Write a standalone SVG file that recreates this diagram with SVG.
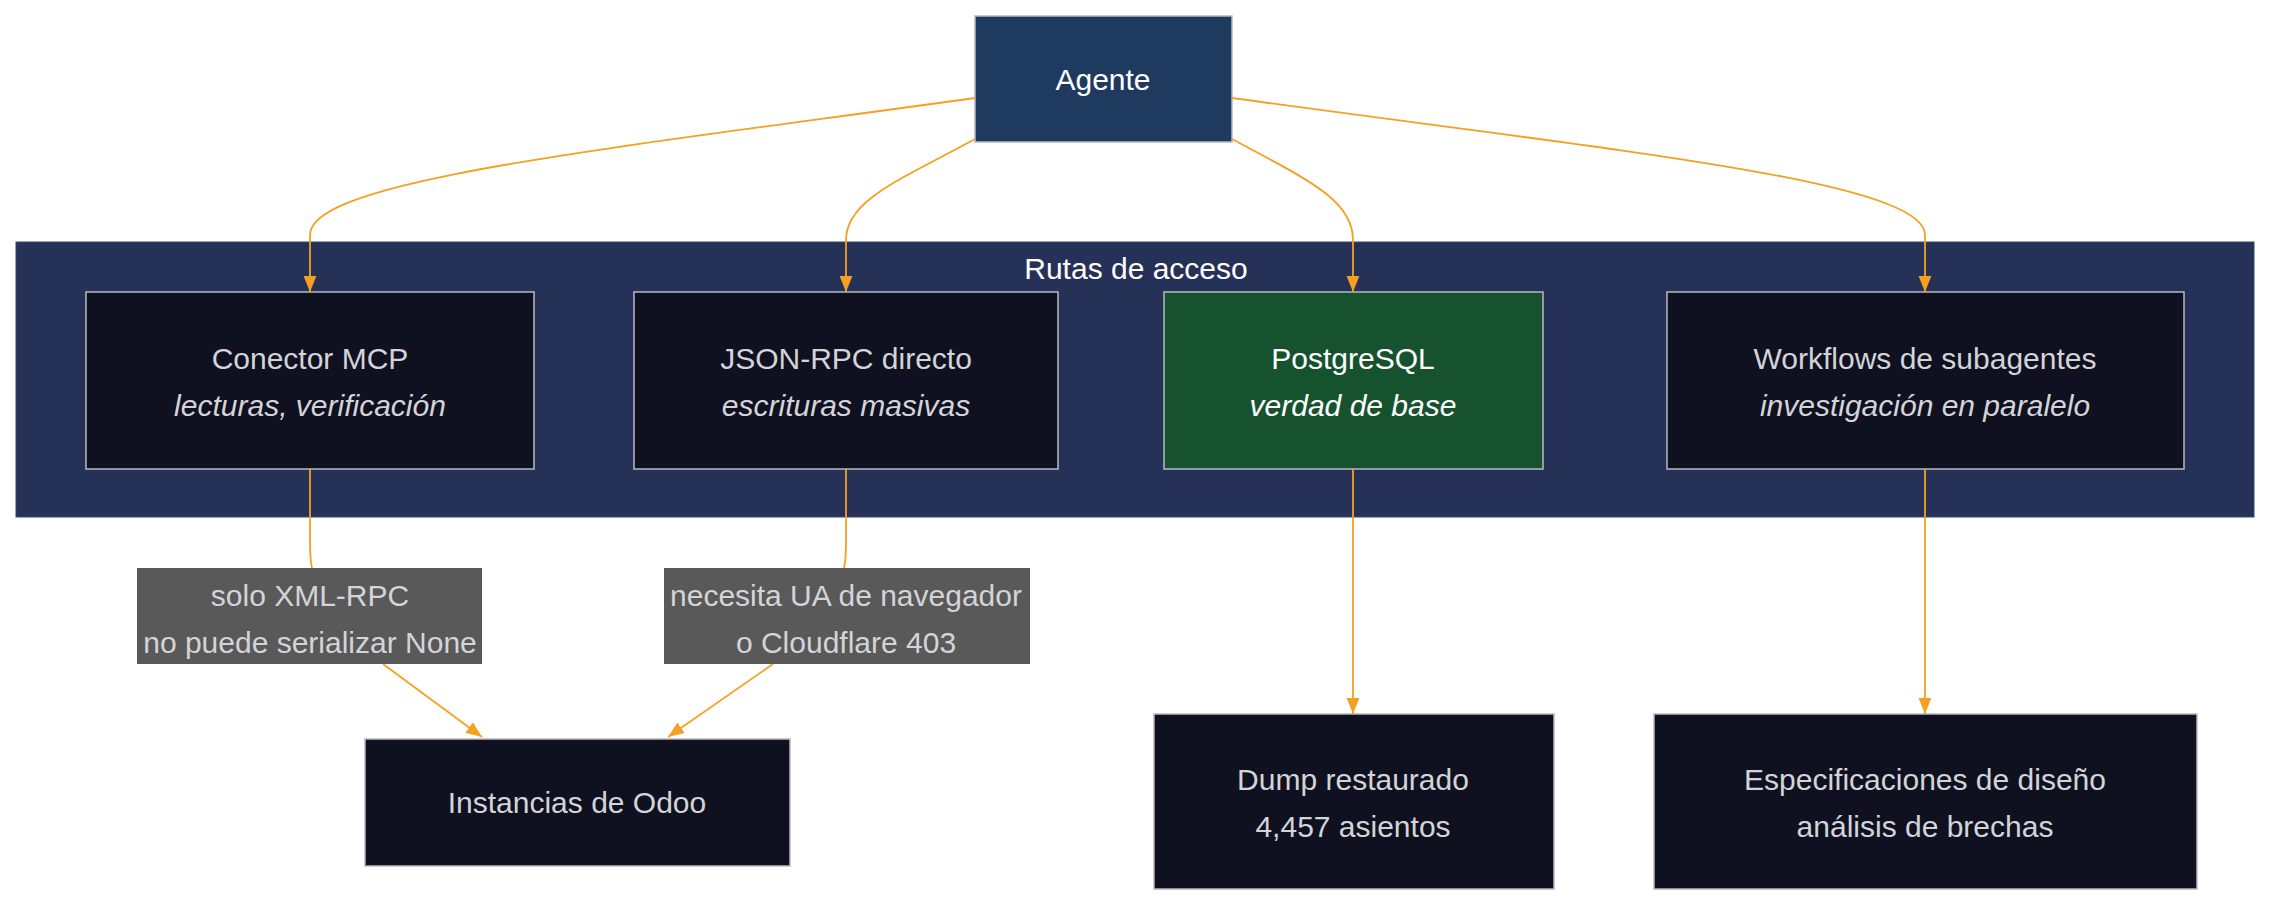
<svg xmlns="http://www.w3.org/2000/svg" width="2278" height="908" viewBox="0 0 2278 908">
<defs>
<marker id="arr" viewBox="0 0 10 10" refX="10" refY="5" markerWidth="16" markerHeight="16" markerUnits="userSpaceOnUse" orient="auto"><path d="M0,1 L10,5 L0,9 z" fill="#f5a020"/></marker>
</defs>
<style>
text{font-family:"Liberation Sans",Arial,sans-serif;font-size:30px;fill:#d4d4d8;text-anchor:middle}
.w{fill:#ffffff}
.i{font-style:italic}
.n{fill:#0f1120;stroke:#b8b8c0;stroke-width:1.5}
.e{fill:none;stroke:#f5a020;stroke-width:1.8}
</style>
<rect width="2278" height="908" fill="#ffffff"/>
<g id="cluster">
<rect x="16" y="242" width="2238" height="275" fill="#263157" stroke="#3a4570" stroke-width="1"/>
<text x="1136" y="279" class="w">Rutas de acceso</text>
</g>
<g id="agente"><rect x="975" y="16" width="257" height="126" fill="#1e3a5f" stroke="#b8b8c0" stroke-width="1.5"/><text x="1103" y="90" class="w">Agente</text></g>
<g id="mcp"><rect class="n" x="86" y="292" width="448" height="177"/><text x="310" y="369">Conector MCP</text><text x="310" y="416" class="i">lecturas, verificación</text></g>
<g id="json"><rect class="n" x="634" y="292" width="424" height="177"/><text x="846" y="369">JSON-RPC directo</text><text x="846" y="416" class="i">escrituras masivas</text></g>
<g id="pg"><rect x="1164" y="292" width="379" height="177" fill="#17522f" stroke="#b8b8c0" stroke-width="1.5"/><text x="1353" y="369" class="w">PostgreSQL</text><text x="1353" y="416" class="i w">verdad de base</text></g>
<g id="wf"><rect class="n" x="1667" y="292" width="517" height="177"/><text x="1925" y="369">Workflows de subagentes</text><text x="1925" y="416" class="i">investigación en paralelo</text></g>
<g id="odoo"><rect class="n" x="365" y="739" width="425" height="127"/><text x="577" y="813">Instancias de Odoo</text></g>
<g id="dump"><rect class="n" x="1154" y="714" width="400" height="175"/><text x="1353" y="790">Dump restaurado</text><text x="1353" y="837">4,457 asientos</text></g>
<g id="spec"><rect class="n" x="1654" y="714" width="543" height="175"/><text x="1925" y="790">Especificaciones de diseño</text><text x="1925" y="837">análisis de brechas</text></g>
<g id="connectors">
<path class="e" marker-end="url(#arr)" d="M975,98 C600,150 310,180 310,235 L310,292"/>
<path class="e" marker-end="url(#arr)" d="M975,139 C900,180 846,200 846,240 L846,292"/>
<path class="e" marker-end="url(#arr)" d="M1232,139 C1308,180 1353,200 1353,240 L1353,292"/>
<path class="e" marker-end="url(#arr)" d="M1232,98 C1608,150 1925,180 1925,235 L1925,292"/>
<path class="e" d="M310,469 L310,540 Q310,560 312,568"/>
<path class="e" d="M846,469 L846,540 Q846,560 844,568"/>
<path class="e" marker-end="url(#arr)" d="M383,664 L482,737"/>
<path class="e" marker-end="url(#arr)" d="M773,664 L668,737"/>
<path class="e" marker-end="url(#arr)" d="M1353,469 L1353,714"/>
<path class="e" marker-end="url(#arr)" d="M1925,469 L1925,714"/>
</g>
<g id="label1"><rect x="137" y="568" width="345" height="96" fill="#595959"/><text x="310" y="606">solo XML-RPC</text><text x="310" y="653">no puede serializar None</text></g>
<g id="label2"><rect x="664" y="568" width="366" height="96" fill="#595959"/><text x="846" y="606">necesita UA de navegador</text><text x="846" y="653">o Cloudflare 403</text></g>
</svg>
